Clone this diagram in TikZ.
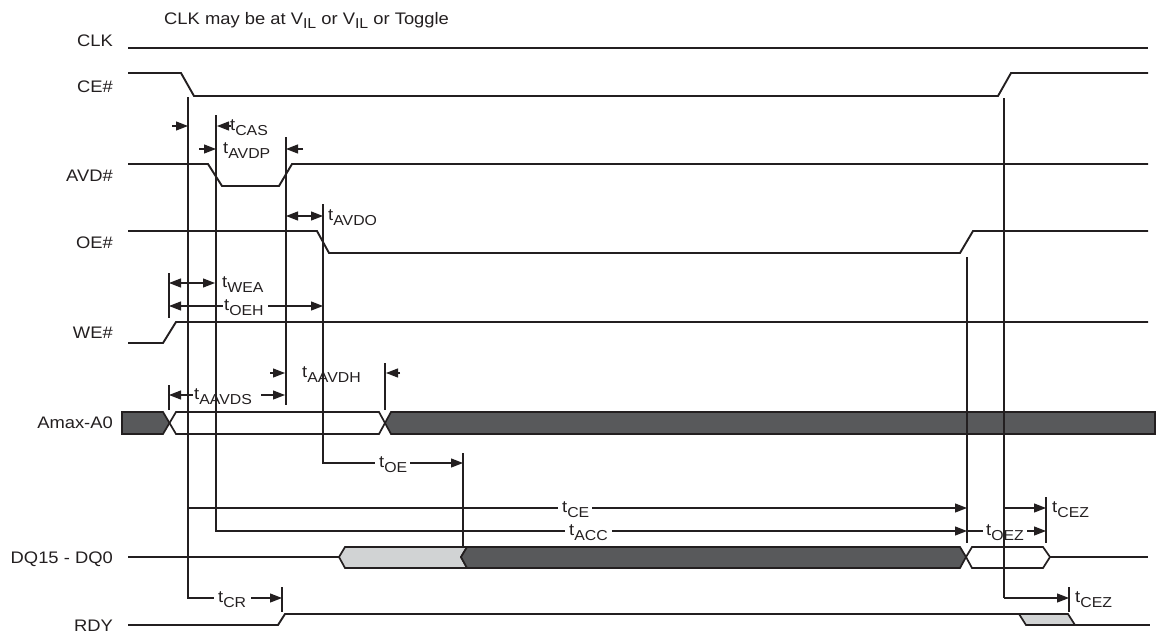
\documentclass[tikz,border=0pt]{standalone}
\usepackage{fontspec}
\setmainfont{Liberation Sans}[FakeStretch=1.1]
\usetikzlibrary{arrows.meta}
\definecolor{ink}{HTML}{231F20}
\definecolor{busdark}{HTML}{58595B}
\definecolor{buslight}{HTML}{D1D3D4}
\newcommand{\mainf}{\fontsize{16.7}{19}\selectfont}
\newcommand{\subf}{\fontsize{14.4}{15}\selectfont}
\newcommand{\tsub}[1]{t\raisebox{-5pt}{\subf #1}}
\begin{document}
\begin{tikzpicture}[x=1pt,y=-1pt,font=\mainf,
  sig/.style={draw=ink,line width=1.9pt},
  bus/.style={draw=ink,line width=1.7pt,line join=miter},
  guide/.style={draw=ink,line width=1.2pt},
  dim/.style={draw=ink,line width=1.2pt},
  arr/.style={dim,-{Triangle[length=12pt,width=9pt]}},
  darr/.style={dim,{Triangle[length=12pt,width=9pt]}-{Triangle[length=12pt,width=9pt]}},
  lbl/.style={anchor=base west,inner sep=0pt,text=ink},
  signame/.style={anchor=base east,inner sep=0pt,text=ink}]
\useasboundingbox (0,0) rectangle (1158,634);

% title and signal names
\node[lbl] (title) at (164,25) {CLK may be at V\raisebox{-4pt}{\subf IL} or V\raisebox{-4pt}{\subf IL} or Toggle};
\node[signame] (nCLK) at (113,46) {CLK};
\node[signame] (nCE) at (113,92) {CE\#};
\node[signame] (nAVD) at (113,181) {AVD\#};
\node[signame] (nOE) at (113,248) {OE\#};
\node[signame] (nWE) at (113,338) {WE\#};
\node[signame] (nA) at (113,428) {Amax-A0};
\node[signame] (nDQ) at (113,563) {DQ15 - DQ0};
\node[signame] (nRDY) at (113,631) {RDY};

% waveforms
\draw[sig] (128,48) -- (1148,48);
\draw[sig] (128,73) -- (181,73) -- (194,96) -- (998,96) -- (1011,73) -- (1148,73);
\draw[sig] (128,164) -- (208,164) -- (222,186) -- (279,186) -- (292,164) -- (1148,164);
\draw[sig] (128,231) -- (317,231) -- (329,253) -- (960,253) -- (973,231) -- (1148,231);
\draw[sig] (128,343) -- (163,343) -- (176,322) -- (1148,322);

% address bus
\filldraw[bus,fill=busdark] (122,412) -- (163,412) -- (169.5,423) -- (163,434) -- (122,434) -- cycle;
\filldraw[bus,fill=white] (169.5,423) -- (176,412) -- (379,412) -- (385,423) -- (379,434) -- (176,434) -- cycle;
\filldraw[bus,fill=busdark] (385,423) -- (391,412) -- (1155,412) -- (1155,434) -- (391,434) -- cycle;

% data bus
\draw[sig] (128,557) -- (339,557);
\filldraw[bus,fill=buslight] (339,557) -- (345,547) -- (467,547) -- (461,557) -- (467,568) -- (345,568) -- cycle;
\filldraw[bus,fill=busdark] (461,557) -- (467,547) -- (960,547) -- (966,557) -- (960,568) -- (467,568) -- cycle;
\filldraw[bus,fill=white] (966,557) -- (972,547) -- (1043,547) -- (1050,557) -- (1043,568) -- (972,568) -- cycle;
\draw[sig] (1050,557) -- (1148,557);

% ready
\draw[sig] (128,625) -- (278,625) -- (285,614) -- (1019,614);
\filldraw[bus,fill=buslight] (1019,614) -- (1068,614) -- (1075,625) -- (1026,625) -- cycle;
\draw[sig] (1075,625) -- (1150,625);

% guide lines
\draw[guide] (188,97) -- (188,598) -- (214,598);
\draw[guide] (216,115) -- (216,531) -- (565,531);
\draw[guide] (286,137) -- (286,405);
\draw[guide] (323,204) -- (323,463) -- (375,463);
\draw[guide] (463,453) -- (463,546);
\draw[guide] (385,363) -- (385,410);
\draw[guide] (169,273) -- (169,318);
\draw[guide] (169,385) -- (169,410);
\draw[guide] (967,257) -- (967,543);
\draw[guide] (1004,98) -- (1004,598);
\draw[guide] (1046,497) -- (1046,543);
\draw[guide] (1069,587) -- (1069,612);
\draw[guide] (282,587) -- (282,612);
\draw[guide] (188,508) -- (558,508);

% timing labels and arrows
\draw[arr] (172,126) -- (188,126);
\draw[arr] (231,126) -- (217,126);
\node[lbl] (tCAS) at (230,130) {\tsub{CAS}};
\draw[arr] (199,149) -- (216,149);
\node[lbl] (tAVDP) at (223,153) {\tsub{AVDP}};
\draw[arr] (303,149) -- (286,149);
\draw[darr] (286,216) -- (323,216);
\node[lbl] (tAVDO) at (328,220) {\tsub{AVDO}};
\draw[darr] (169,283) -- (215,283);
\node[lbl] (tWEA) at (222,287) {\tsub{WEA}};
\draw[arr] (223,306) -- (169,306);
\node[lbl] (tOEH) at (224,310) {\tsub{OEH}};
\draw[arr] (268,306) -- (323,306);
\draw[arr] (270,373) -- (285,373);
\node[lbl] (tAAVDH) at (302,377) {\tsub{AAVDH}};
\draw[arr] (400,373) -- (386,373);
\draw[arr] (193,395) -- (169,395);
\node[lbl] (tAAVDS) at (194,399) {\tsub{AAVDS}};
\draw[arr] (261,395) -- (285,395);
\node[lbl] (tOE) at (379,467) {\tsub{OE}};
\draw[arr] (410,463) -- (463,463);
\node[lbl] (tCE) at (562,512) {\tsub{CE}};
\draw[arr] (592,508) -- (967,508);
\node[lbl] (tACC) at (569,535) {\tsub{ACC}};
\draw[arr] (612,531) -- (967,531);
\draw[arr] (1004,508) -- (1046,508);
\node[lbl] (tCEZa) at (1052,512) {\tsub{CEZ}};
\draw[dim] (967,531) -- (983,531);
\node[lbl] (tOEZ) at (986,535) {\tsub{OEZ}};
\draw[arr] (1027,531) -- (1046,531);
\node[lbl] (tCR) at (218,602) {\tsub{CR}};
\draw[arr] (251,598) -- (282,598);
\draw[arr] (1004,598) -- (1069,598);
\node[lbl] (tCEZb) at (1075,602) {\tsub{CEZ}};
\end{tikzpicture}
\end{document}
